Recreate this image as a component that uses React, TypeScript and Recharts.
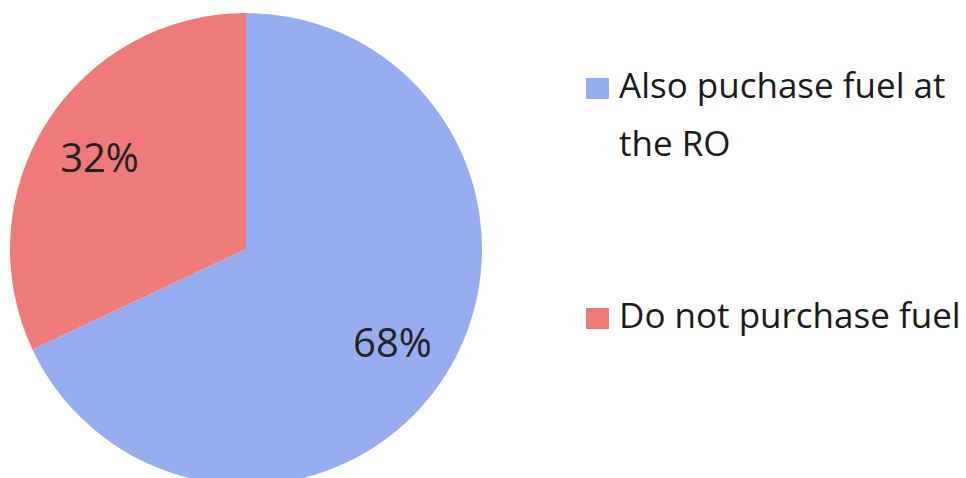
import React from "react";
import { PieChart, Pie, Cell, Legend } from "recharts";

const categories = ["Also puchase fuel at the RO", "Do not purchase fuel"];
const legendLines = [["Also puchase fuel at", "the RO"], ["Do not purchase fuel"]];
const shares = [68, 32];
const colors = ["#96aef0", "#f07a7a"];

const data = categories.map((name, i) => ({ name, value: shares[i] }));

const RAD = Math.PI / 180;

const renderLabel = (props: any) => {
  const { cx, cy, midAngle, outerRadius, value } = props;
  const r = outerRadius * 0.735;
  const x = cx + r * Math.cos(-midAngle * RAD);
  const y = cy + r * Math.sin(-midAngle * RAD);
  return (
    <text
      x={x}
      y={y}
      textAnchor="middle"
      dominantBaseline="central"
      fill="#222"
      style={{ fontFamily: "'Open Sans', sans-serif", fontSize: 40 }}
    >
      {`${value}%`}
    </text>
  );
};

const legendTops = [70, 300];

const renderLegend = () => (
  <div style={{ position: "relative", width: 966, height: 478 }}>
    {categories.map((c, i) => (
      <div key={c} style={{ position: "absolute", left: 586, top: legendTops[i] }}>
        <div
          style={{
            position: "absolute",
            left: 0,
            top: 8,
            width: 23,
            height: 21,
            background: colors[i],
          }}
        />
        <div
          style={{
            position: "absolute",
            left: 33,
            top: 0,
            whiteSpace: "nowrap",
            fontFamily: "'Open Sans', sans-serif",
            fontSize: 35,
            lineHeight: "58px",
            color: "#1a1a1a",
            marginTop: -14,
          }}
        >
          {legendLines[i].map((l) => (
            <div key={l}>{l}</div>
          ))}
        </div>
      </div>
    ))}
  </div>
);

export default function App() {
  return (
    <div style={{ position: "absolute", left: 0, top: 0, width: 966, height: 478, background: "#fff", overflow: "hidden" }}>
      <PieChart width={966} height={478} margin={{ top: 0, right: 0, bottom: 0, left: 0 }}>
        <Pie
          data={data}
          dataKey="value"
          nameKey="name"
          cx={246}
          cy={249}
          outerRadius={236}
          startAngle={90}
          endAngle={-270}
          stroke="none"
          label={renderLabel}
          labelLine={false}
          isAnimationActive={false}
        >
          {data.map((d, i) => (
            <Cell key={d.name} fill={colors[i]} />
          ))}
        </Pie>
        <Legend
          content={renderLegend}
          wrapperStyle={{ position: "absolute", left: 0, top: 0, width: 966, height: 478 }}
        />
      </PieChart>
    </div>
  );
}
